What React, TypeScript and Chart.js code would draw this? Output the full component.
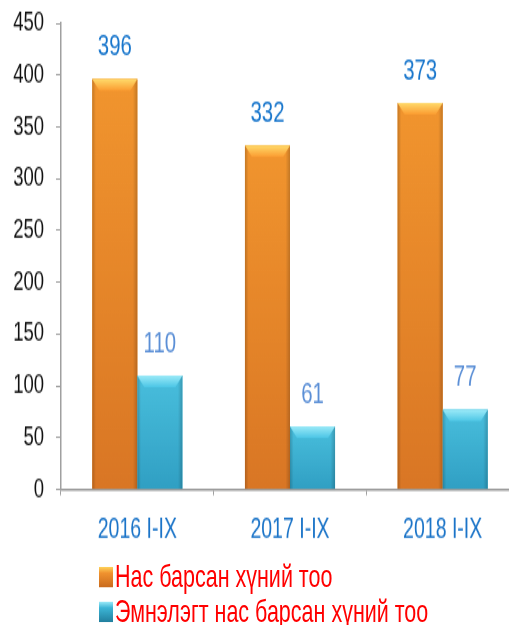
import React, { useEffect, useRef } from "react";
import { Chart, registerables } from "chart.js";

Chart.register(...registerables);

const categories = ["2016 I-IX", "2017 I-IX", "2018 I-IX"];
const deathsTotal = [396, 332, 373];
const deathsHospital = [110, 61, 77];
const seriesNames = ["Нас барсан хүний тоо", "Эмнэлэгт нас барсан хүний тоо"];
const yTicks = [0, 50, 100, 150, 200, 250, 300, 350, 400, 450];

const FONT = "'Liberation Sans', Arial, sans-serif";
const SY = 1.45;
const CW = 519;
const CH = 431;
const ZERO_Y = 337.6;

const barStyles = [
  { top: "#FB9B30", bottom: "#E27B26", light: "#FFDA6A", label: "#1876CC" },
  { top: "#4CC6E6", bottom: "#32A6CB", light: "#9BEAF8", label: "#5B8FD6" },
];

const barDeco = {
  id: "barDeco",
  afterDatasetsDraw(chart: any) {
    const ctx = chart.ctx;
    chart.data.datasets.forEach((ds: any, di: number) => {
      const meta = chart.getDatasetMeta(di);
      const st = barStyles[di];
      meta.data.forEach((bar: any, i: number) => {
        const { x, y, base, width } = bar.getProps(["x", "y", "base", "width"], true);
        const l = x - width / 2;
        const r = x + width / 2;
        ctx.save();
        const vg = ctx.createLinearGradient(0, y, 0, base);
        vg.addColorStop(0, st.top);
        vg.addColorStop(1, st.bottom);
        ctx.fillStyle = vg;
        ctx.fillRect(l, y, width, base - y);
        const g = ctx.createLinearGradient(l, 0, r, 0);
        g.addColorStop(0, "rgba(0,0,0,0.22)");
        g.addColorStop(0.08, "rgba(0,0,0,0.04)");
        g.addColorStop(0.9, "rgba(0,0,0,0.04)");
        g.addColorStop(1, "rgba(0,0,0,0.22)");
        ctx.fillStyle = g;
        ctx.fillRect(l, y, width, base - y);
        const bh = 8;
        const bw = 7;
        ctx.beginPath();
        ctx.moveTo(l, y);
        ctx.lineTo(r, y);
        ctx.lineTo(r - bw, y + bh);
        ctx.lineTo(l + bw, y + bh);
        ctx.closePath();
        const bg = ctx.createLinearGradient(0, y, 0, y + bh);
        bg.addColorStop(0, st.light);
        bg.addColorStop(1, st.top);
        ctx.fillStyle = bg;
        ctx.fill();
        ctx.fillStyle = st.label;
        ctx.font = `20.4px ${FONT}`;
        ctx.textAlign = "center";
        ctx.textBaseline = "middle";
        ctx.fillText(String(ds.data[i]), x, y - 22);
        ctx.restore();
      });
    });
  },
};

export default function App() {
  const ref = useRef<HTMLCanvasElement>(null);
  useEffect(() => {
    if (!ref.current) return;
    const chart = new Chart(ref.current, {
      type: "bar",
      data: {
        labels: categories,
        datasets: [
          {
            label: seriesNames[0],
            data: deathsTotal,
            backgroundColor: barStyles[0].top,
            categoryPercentage: 0.59,
            barPercentage: 1,
          },
          {
            label: seriesNames[1],
            data: deathsHospital,
            backgroundColor: barStyles[1].top,
            categoryPercentage: 0.59,
            barPercentage: 1,
          },
        ],
      },
      options: {
        responsive: false,
        animation: false,
        devicePixelRatio: 1,
        layout: { padding: { top: 16, left: 0, right: 0, bottom: 0 } },
        plugins: { legend: { display: false }, tooltip: { enabled: false } },
        scales: {
          x: {
            afterFit: (s: any) => {
              s.height = CH - ZERO_Y;
              s.paddingLeft = 0;
              s.paddingRight = 0;
            },
            grid: { drawOnChartArea: false, tickLength: 4, color: "#A0A0A0", offset: true },
            border: { color: "#9A9A9A", width: 1.4 },
            ticks: {
              color: "#1B74C8",
              font: { family: FONT, size: 19.5 },
              padding: 12,
            },
          },
          y: {
            min: 0,
            max: 450,
            afterFit: (s: any) => {
              s.width = 61;
              s.paddingTop = 0;
              s.paddingBottom = 0;
            },
            afterBuildTicks: (s: any) => {
              s.ticks = yTicks.map((v) => ({ value: v }));
            },
            grid: { drawOnChartArea: false, tickLength: 5, color: "#A0A0A0" },
            border: { color: "#A0A0A0", width: 1.5 },
            ticks: {
              color: "#111111",
              font: { family: FONT, size: 18.5 },
              padding: 12,
            },
          },
        },
      },
      plugins: [barDeco],
    });
    return () => chart.destroy();
  }, []);

  const legendRow = (text: string, center: number, grad: string) => (
    <div
      style={{
        position: "absolute",
        left: 99,
        top: center - 12,
        height: 24,
        display: "flex",
        alignItems: "center",
        whiteSpace: "nowrap",
      }}
    >
      <div style={{ width: 14, height: 13.8, background: grad, marginRight: 2 }} />
      <span style={{ color: "#FF0000", fontFamily: FONT, fontSize: 21.5, lineHeight: "24px" }}>{text}</span>
    </div>
  );

  return (
    <div
      style={{
        position: "absolute",
        left: 0,
        top: 0,
        width: 509,
        height: 625,
        overflow: "hidden",
        background: "#FFFFFF",
      }}
    >
      <div
        style={{
          position: "absolute",
          left: 0,
          top: 0,
          width: CW,
          height: CH,
          transform: `scaleY(${SY})`,
          transformOrigin: "0 0",
        }}
      >
        <canvas ref={ref} width={CW} height={CH} style={{ width: CW, height: CH, display: "block" }} />
        {legendRow(seriesNames[0], 397.9, "linear-gradient(#FFD35A 0%, #F0922F 30%, #C96A1C 100%)")}
        {legendRow(seriesNames[1], 422.1, "linear-gradient(#9AEAF8 0%, #3CB5D6 30%, #217F9E 100%)")}
      </div>
    </div>
  );
}
